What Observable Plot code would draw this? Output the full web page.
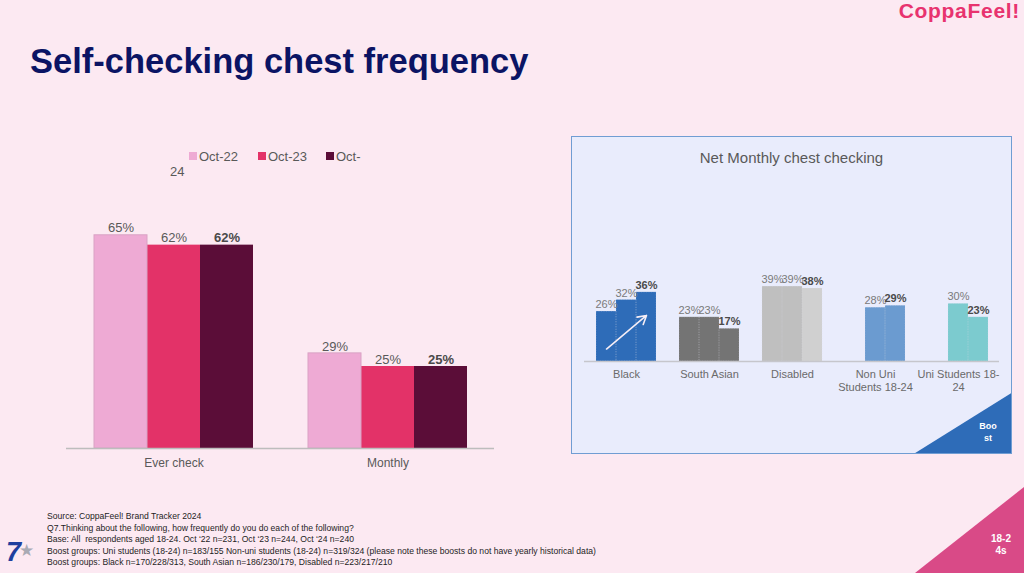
<!DOCTYPE html>
<html>
<head>
<meta charset="utf-8">
<script src="https://cdn.jsdelivr.net/npm/d3@7"></script>
<script src="https://cdn.jsdelivr.net/npm/@observablehq/plot@0.6"></script>
<style>
  html, body { margin: 0; padding: 0; }
  body { width: 1024px; height: 573px; overflow: hidden; background: #fce9f2; font-family: "Liberation Sans", Arial, sans-serif; }
  #page { position: relative; width: 1024px; height: 573px; overflow: hidden; }
  .abs { position: absolute; white-space: nowrap; }
  .leg-sq { position: absolute; width: 8px; height: 8px; }
  .leg-tx { position: absolute; font-size: 13px; line-height: 15px; color: #595959; }
</style>
</head>
<body>
<div id="page">
  <div class="abs" style="right:4px; top:-1px; font-size:21px; line-height:24px; font-weight:900; color:#e8336f; letter-spacing:0.7px;">CoppaFeel!</div>
  <div class="abs" style="left:30px; top:41px; font-size:34.5px; line-height:40px; font-weight:bold; color:#0b1464;">Self-checking chest frequency</div>

  <div id="legend"></div>
  <div id="left" class="abs" style="left:0px; top:200px;"></div>

  <div id="panel" class="abs" style="left:571px; top:136px; width:441px; height:318px; box-sizing:border-box; border:1.5px solid #709dd3; background:#e9ecfc; overflow:hidden;">
    <div class="abs" style="left:0; right:0; top:12px; text-align:center; font-size:15px; line-height:18px; color:#595959;">Net Monthly chest checking</div>
    <svg class="abs" style="left:0; top:0;" width="441" height="318">
      <polygon points="340,318 441,255 441,318" fill="#2e6cb8"></polygon>
    </svg>
    <div class="abs" style="left:404px; top:283px; width:24px; text-align:center; font-size:9px; line-height:12px; font-weight:bold; color:#ffffff; white-space:normal;">Boo<br>st</div>
  </div>
  <div id="right" class="abs" style="left:570px; top:260px;"></div>

  <svg class="abs" style="left:0; top:0;" width="1024" height="573">
    <polygon points="915,573 1024,487 1024,573" fill="#d94a87"></polygon>
  </svg>
  <div class="abs" style="left:986px; top:533px; width:30px; text-align:center; font-size:10px; line-height:12px; font-weight:bold; color:#ffffff; white-space:normal;">18-2<br>4s</div>

  <div class="abs" style="left:6px; top:538px; font-size:27px; line-height:28px; font-weight:bold; font-style:italic; color:#1f3f9e;">7</div>
  <div class="abs" style="left:19px; top:541px; font-size:17px; line-height:20px; color:#a9aab4;">★</div>

  <div class="abs" style="left:47px; top:511px; font-size:8.6px; line-height:11.6px; color:#1e1e1e;">
    Source: CoppaFeel! Brand Tracker 2024<br>
    Q7.Thinking about the following, how frequently do you do each of the following?<br>
    Base: All &nbsp;respondents aged 18-24. Oct ‘22 n=231, Oct ‘23 n=244, Oct ‘24 n=240<br>
    Boost groups: Uni students (18-24) n=183/155 Non-uni students (18-24) n=319/324 (please note these boosts do not have yearly historical data)<br>
    Boost groups: Black n=170/228/313, South Asian n=186/230/179, Disabled n=223/217/210
  </div>
</div>

<script>
// ---------- Data ----------
const years = ["Oct-22", "Oct-23", "Oct-24"];
const yearColors = ["#eeaad4", "#e33268", "#5b0d38"];

const leftCats = ["Ever check", "Monthly"];
const everCheck = [65, 62, 62];
const monthly = [29, 25, 25];

const rightCats = ["Black", "South Asian", "Disabled", "Non Uni Students 18-24", "Uni Students 18-24"];
const rightTickLabels = ["Black", "South Asian", "Disabled", "Non Uni\nStudents 18-24", "Uni Students 18-\n24"];
const black = [26, 32, 36];
const southAsian = [23, 23, 17];
const disabled = [39, 39, 38];
const nonUni = [null, 28, 29];
const uni = [null, 30, 23];
const rightColors = [
  ["#2e6cb8", "#2e6cb8", "#2e6cb8"],
  ["#747474", "#747474", "#747474"],
  ["#bfbfbf", "#bfbfbf", "#d0d0d0"],
  ["#6b9bd0", "#6b9bd0", "#6b9bd0"],
  ["#7ccbcf", "#7ccbcf", "#7ccbcf"]
];
// arrow annotation (Black group, Oct-22 -> Oct-24)
const arrowCat = "Black", arrowFrom = "Oct-22", arrowTo = "Oct-24", arrowY1 = 6.5, arrowY2 = 24;

const FONT = "'Liberation Sans', Arial, sans-serif";

// ---------- Legend ----------
const legend = document.getElementById("legend");
const legendItems = [
  {label: "Oct-22", sq: 189, tx: 199},
  {label: "Oct-23", sq: 258, tx: 268},
  {label: "Oct-", sq: 326, tx: 336}
];
legendItems.forEach((it, i) => {
  const s = document.createElement("div");
  s.className = "leg-sq";
  s.style.left = it.sq + "px"; s.style.top = "152px"; s.style.background = yearColors[i];
  legend.appendChild(s);
  const t = document.createElement("div");
  t.className = "leg-tx"; t.style.left = it.tx + "px"; t.style.top = "148.5px"; t.textContent = it.label;
  legend.appendChild(t);
});
const t24 = document.createElement("div");
t24.className = "leg-tx"; t24.style.left = "170px"; t24.style.top = "164px"; t24.textContent = "24";
legend.appendChild(t24);

// ---------- Left chart ----------
const leftSeries = [everCheck, monthly];
const leftData = leftCats.flatMap((c, i) => years.map((y, j) => ({cat: c, year: y, value: leftSeries[i][j]})));

const left = Plot.plot({
  width: 520, height: 280,
  marginLeft: 65, marginRight: 26, marginTop: 18.4, marginBottom: 32,
  style: {background: "transparent", fontFamily: FONT, overflow: "visible"},
  facet: {data: leftData, x: "cat"},
  fx: {domain: leftCats, padding: 0, axis: null},
  x: {domain: years, paddingInner: 0, paddingOuter: 0.5, axis: null},
  y: {domain: [0, 70], axis: null},
  color: {domain: years, range: yearColors},
  marks: [
    Plot.barY(leftData, {x: "year", y: "value", fill: "year"}),
    Plot.barY(leftData, {filter: d => d.year === "Oct-22", x: "year", y: "value", fill: "none", stroke: "#d9a2c4", strokeWidth: 1}),
    Plot.text(leftData, {filter: d => d.year !== "Oct-24", x: "year", y: "value", text: d => d.value + "%", dy: -7, fontSize: 13, fill: "#595959"}),
    Plot.text(leftData, {filter: d => d.year === "Oct-24", x: "year", y: "value", text: d => d.value + "%", dy: -7, fontSize: 13, fontWeight: "bold", fill: "#4a4a4a"}),
    Plot.text(leftData, {filter: d => d.year === "Oct-23", x: "year", text: "cat", frameAnchor: "bottom", lineAnchor: "top", dy: 10, fontSize: 12, fill: "#595959"}),
    Plot.ruleY([0], {stroke: "#bdbdbd", strokeWidth: 1.5})
  ]
});
document.getElementById("left").appendChild(left);

// ---------- Right chart ----------
const rightSeries = [black, southAsian, disabled, nonUni, uni];
const rightAll = rightCats.flatMap((c, i) => years.map((y, j) => ({
  cat: c, label: rightTickLabels[i], year: y, value: rightSeries[i][j], color: rightColors[i][j]
})));

const right = Plot.plot({
  width: 450, height: 140,
  marginLeft: 13, marginRight: 20.5, marginTop: 5, marginBottom: 39,
  style: {background: "transparent", fontFamily: FONT, overflow: "visible"},
  facet: {data: rightAll, x: "cat"},
  fx: {domain: rightCats, padding: 0, axis: null},
  x: {domain: years, paddingInner: 0, paddingOuter: 0.48, axis: null},
  y: {domain: [0, 50], axis: null},
  color: {type: "identity"},
  marks: [
    Plot.barY(rightAll, {filter: d => d.value != null, x: "year", y: "value", fill: "color"}),
    Plot.barY(rightAll, {filter: d => d.value != null, x: "year", y: "value", fill: "none", stroke: "#dcdce6", strokeOpacity: 0.4, strokeWidth: 0.7, strokeDasharray: "1,1.5"}),
    Plot.arrow(rightAll, {filter: d => d.cat === arrowCat && d.year === arrowFrom,
      x1: "year", x2: () => arrowTo, y1: () => arrowY1, y2: () => arrowY2,
      stroke: "#f6eef6", strokeWidth: 1.6, headLength: 9}),
    Plot.text(rightAll, {filter: d => d.value != null && d.year !== "Oct-24", x: "year", y: "value", text: d => d.value + "%", dy: -7, fontSize: 11, fill: "#7a7a7a"}),
    Plot.text(rightAll, {filter: d => d.value != null && d.year === "Oct-24", x: "year", y: "value", text: d => d.value + "%", dy: -7, fontSize: 11, fontWeight: "bold", fill: "#4a4a4a"}),
    Plot.text(rightAll, {filter: d => d.year === "Oct-23", x: "year", text: "label", frameAnchor: "bottom", lineAnchor: "top", dy: 7, fontSize: 11, lineHeight: 1.18, fill: "#6a6a6a"}),
    Plot.ruleY([0], {stroke: "#c6c6cc", strokeWidth: 1.5})
  ]
});
document.getElementById("right").appendChild(right);
</script>
</body>
</html>
